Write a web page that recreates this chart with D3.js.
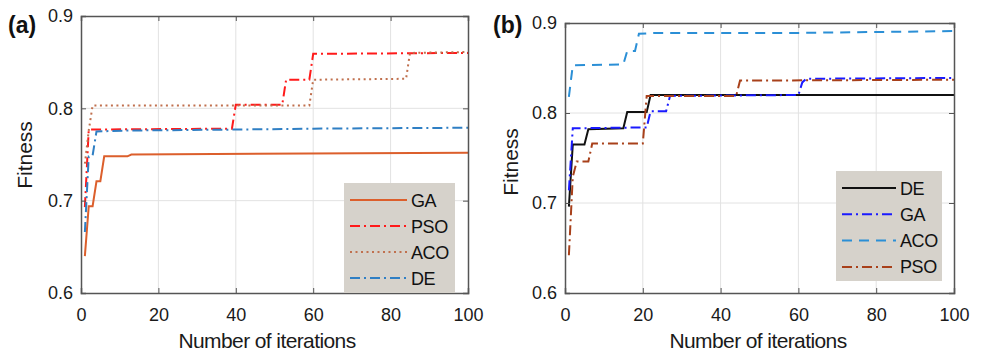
<!DOCTYPE html>
<html>
<head>
<meta charset="utf-8">
<script src="https://cdn.jsdelivr.net/npm/d3@7"></script>
<style>
  body { margin: 0; background: #fff; }
  svg { display: block; font-family: Arial, "Liberation Sans", sans-serif; }
</style>
</head>
<body>
<div id="chart"></div>
<script>
// panel (a) series: iteration break points and fitness values
var aGAIter = [1, 2, 3, 4, 5, 6, 12, 13, 100];
var aGAVals = [0.640, 0.694, 0.694, 0.721, 0.721, 0.748, 0.748, 0.750, 0.752];
var aPSOIter = [1, 2, 39, 40, 52, 53, 59, 60, 100];
var aPSOVals = [0.693, 0.777, 0.778, 0.804, 0.804, 0.831, 0.831, 0.859, 0.860];
var aACOIter = [1, 2, 3, 59, 60, 84, 85, 100];
var aACOVals = [0.740, 0.776, 0.803, 0.803, 0.831, 0.832, 0.860, 0.861];
var aDEIter = [1, 2, 3, 4, 13, 40, 60, 100];
var aDEVals = [0.666, 0.748, 0.749, 0.775, 0.776, 0.777, 0.778, 0.779];

// panel (b) series
var bDEIter = [1, 2, 5, 6, 15, 16, 21, 22, 100];
var bDEVals = [0.696, 0.765, 0.765, 0.782, 0.783, 0.801, 0.801, 0.820, 0.820];
var bGAIter = [1, 2, 21, 22, 26, 27, 60, 61, 62, 100];
var bGAVals = [0.714, 0.783, 0.784, 0.802, 0.802, 0.819, 0.820, 0.834, 0.838, 0.839];
var bACOIter = [1, 2, 15, 16, 18, 19, 23, 60, 100];
var bACOVals = [0.818, 0.853, 0.854, 0.869, 0.869, 0.888, 0.889, 0.889, 0.891];
var bPSOIter = [1, 2, 3, 6, 7, 20, 21, 44, 45, 100];
var bPSOVals = [0.642, 0.729, 0.746, 0.746, 0.766, 0.766, 0.819, 0.819, 0.836, 0.837];

var xTicks = [0, 20, 40, 60, 80, 100];
var yTicks = [0.6, 0.7, 0.8, 0.9];

function zip(it, vals) {
    return it.map(function (d, i) { return {x: d, y: vals[i]}; });
}

var width = 982, height = 355;
var svg = d3.select("#chart").append("svg")
    .attr("width", width)
    .attr("height", height);

var panels = [
    {
        id: "a", label: "(a)", labelX: 8, labelY: 33,
        left: 81, right: 468, top: 16, bottom: 293,
        titleX: 267, fitX: 32, fitY: 155, ypad: 8,
        legend: {x: 344, y: 183, w: 111, h: 110, row0: 200, step: 26, sx0: 350, sx1: 407, tx: 411},
        series: [
            {name: "GA", data: zip(aGAIter, aGAVals), color: "#dc5f2c", dash: null},
            {name: "PSO", data: zip(aPSOIter, aPSOVals), color: "#ff1a1a", dash: "10,4,2,4"},
            {name: "ACO", data: zip(aACOIter, aACOVals), color: "#c0704e", dash: "2,3.5"},
            {name: "DE", data: zip(aDEIter, aDEVals), color: "#2f7fc4", dash: "10,4,2,4"}
        ]
    },
    {
        id: "b", label: "(b)", labelX: 493, labelY: 33,
        left: 565, right: 954, top: 23, bottom: 293,
        titleX: 758, fitX: 518, fitY: 162, ypad: 8,
        legend: {x: 836, y: 171, w: 106, h: 110, row0: 188, step: 26.3, sx0: 842, sx1: 896, tx: 900},
        series: [
            {name: "DE", data: zip(bDEIter, bDEVals), color: "#111111", dash: null},
            {name: "GA", data: zip(bGAIter, bGAVals), color: "#1a1aff", dash: "10,4,2,4"},
            {name: "ACO", data: zip(bACOIter, bACOVals), color: "#2b8fd6", dash: "10,7"},
            {name: "PSO", data: zip(bPSOIter, bPSOVals), color: "#a8401a", dash: "10,4,2,4"}
        ]
    }
];

panels.forEach(function (p) {
    var x = d3.scaleLinear().domain([0, 100]).range([p.left, p.right]);
    var y = d3.scaleLinear().domain([0.6, 0.9]).range([p.bottom, p.top]);
    var g = svg.append("g");

    // grid
    g.selectAll(".gx").data(xTicks.slice(1, -1)).enter().append("line")
        .attr("x1", function (d) { return x(d); }).attr("x2", function (d) { return x(d); })
        .attr("y1", p.top).attr("y2", p.bottom)
        .attr("stroke", "#e2e2e2").attr("stroke-width", 1);
    g.selectAll(".gy").data(yTicks.slice(1, -1)).enter().append("line")
        .attr("x1", p.left).attr("x2", p.right)
        .attr("y1", function (d) { return y(d); }).attr("y2", function (d) { return y(d); })
        .attr("stroke", "#e2e2e2").attr("stroke-width", 1);

    // lines
    g.append("clipPath").attr("id", "clip-" + p.id)
        .append("rect").attr("x", p.left).attr("y", p.top - 2)
        .attr("width", p.right - p.left).attr("height", p.bottom - p.top + 2);
    var line = d3.line().x(function (d) { return x(d.x); }).y(function (d) { return y(d.y); });
    p.series.forEach(function (s) {
        g.append("path")
            .attr("clip-path", "url(#clip-" + p.id + ")")
            .attr("d", line(s.data))
            .attr("fill", "none")
            .attr("stroke", s.color)
            .attr("stroke-width", 2)
            .attr("stroke-dasharray", s.dash);
    });

    // axes (box with inward ticks)
    var axB = d3.axisBottom(x).tickValues(xTicks).tickSize(-5).tickPadding(15).tickFormat(d3.format("d"));
    var axT = d3.axisTop(x).tickValues(xTicks).tickSize(-5).tickFormat("");
    var axL = d3.axisLeft(y).tickValues(yTicks).tickSize(-5).tickPadding(p.ypad).tickFormat(d3.format(".1f"));
    var axR = d3.axisRight(y).tickValues(yTicks).tickSize(-5).tickFormat("");
    [[axB, "translate(0," + p.bottom + ")"], [axT, "translate(0," + p.top + ")"],
     [axL, "translate(" + p.left + ",0)"], [axR, "translate(" + p.right + ",0)"]].forEach(function (a) {
        var ag = g.append("g").attr("transform", a[1]).call(a[0]);
        ag.select(".domain").attr("stroke", "#555").attr("stroke-width", 1.5);
        ag.selectAll(".tick line").attr("stroke", "#555").attr("stroke-width", 1);
        ag.selectAll("text").attr("font-size", 18).attr("fill", "#1a1a1a")
            .attr("font-family", "Arial, 'Liberation Sans', sans-serif");
    });

    // legend
    var L = p.legend;
    g.append("rect").attr("x", L.x).attr("y", L.y).attr("width", L.w).attr("height", L.h)
        .attr("fill", "#d6d2cb");
    p.series.forEach(function (s, i) {
        var ry = L.row0 + i * L.step;
        g.append("line").attr("x1", L.sx0).attr("x2", L.sx1).attr("y1", ry).attr("y2", ry)
            .attr("stroke", s.color).attr("stroke-width", 2).attr("stroke-dasharray", s.dash);
        g.append("text").attr("x", L.tx).attr("y", ry + 6.5).attr("font-size", 18)
            .attr("letter-spacing", -0.4).attr("fill", "#111").text(s.name);
    });

    // titles
    g.append("text").attr("x", p.titleX).attr("y", 348).attr("text-anchor", "middle")
        .attr("font-size", 21).attr("letter-spacing", -0.6).attr("fill", "#1a1a1a")
        .text("Number of iterations");
    g.append("text").attr("transform", "translate(" + p.fitX + "," + p.fitY + ")rotate(-90)")
        .attr("text-anchor", "middle").attr("font-size", 21).attr("fill", "#1a1a1a")
        .text("Fitness");
    g.append("text").attr("x", p.labelX).attr("y", p.labelY)
        .attr("font-size", 23).attr("font-weight", "bold").attr("fill", "#111")
        .text(p.label);
});
</script>
</body>
</html>
